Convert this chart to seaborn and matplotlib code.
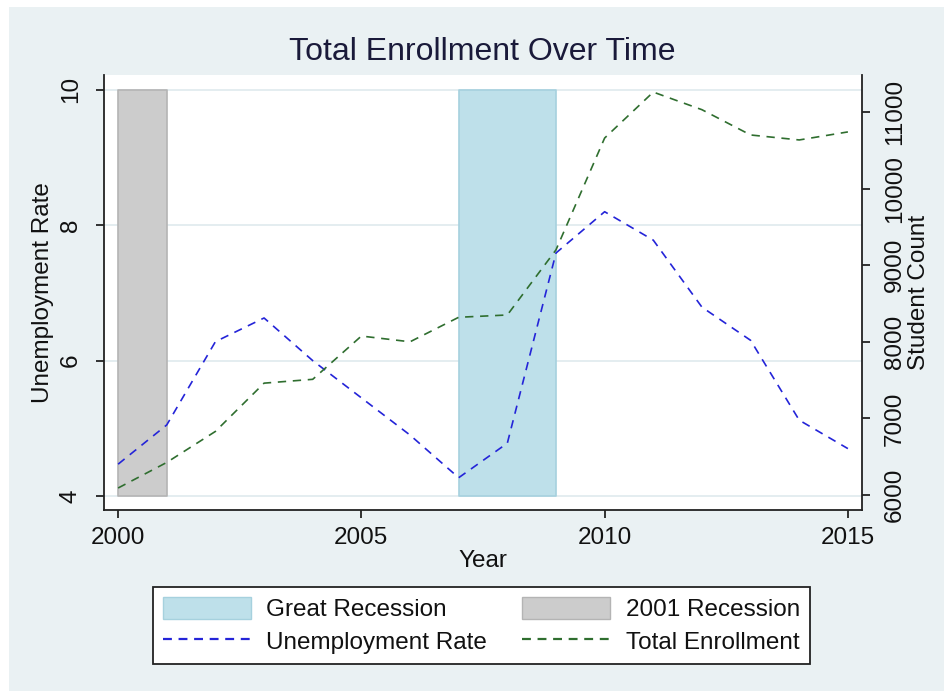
import matplotlib
matplotlib.use("Agg")
import matplotlib.pyplot as plt
from matplotlib.patches import Rectangle, Patch
from matplotlib.lines import Line2D
import seaborn as sns
import pandas as pd

# ---- data ----
years = [2000, 2001, 2002, 2003, 2004, 2005, 2006, 2007,
         2008, 2009, 2010, 2011, 2012, 2013, 2014, 2015]
unemployment = [4.47, 5.05, 6.28, 6.63, 6.00, 5.45, 4.90, 4.27,
                4.78, 7.59, 8.20, 7.78, 6.79, 6.30, 5.12, 4.70]
enrollment = [6091, 6425, 6830, 7460, 7510, 8075, 8000, 8320,
              8350, 9200, 10660, 11260, 11030, 10700, 10635, 10740]

great_recession = [2007, 2009]
recession_2001 = [2000, 2001]
shade_range = [4, 10]

left_ticks = [4, 6, 8, 10]
right_ticks = [6000, 7000, 8000, 9000, 10000, 11000]
x_ticks = [2000, 2005, 2010, 2015]

df = pd.DataFrame({"Year": years, "Unemployment": unemployment,
                   "Enrollment": enrollment})

sns.set_theme(style="white")
plt.rcParams["font.family"] = ["Liberation Sans", "DejaVu Sans"]

BG = "#eaf1f3"
BLUE = "#2424d8"
GREEN = "#2f6e2f"
FS = 17.5

fig = plt.figure(figsize=(9.45, 6.91), dpi=100, facecolor="white")
fig.add_artist(Rectangle((9 / 945, 0), 1, (691 - 7) / 691,
                         transform=fig.transFigure, facecolor=BG,
                         edgecolor="none", zorder=-10))

ax = fig.add_axes([104 / 945, (691 - 510) / 691, (862 - 104) / 945, (510 - 75) / 691])
ax.set_facecolor("white")

# recession shading
ax.fill_between(great_recession, shade_range[0], shade_range[1],
                facecolor="#bee0ea", edgecolor="#a6d1de", linewidth=1.2, zorder=1)
ax.fill_between(recession_2001, shade_range[0], shade_range[1],
                facecolor="#cccccc", edgecolor="#b4b4b4", linewidth=1.2, zorder=1)

sns.lineplot(data=df, x="Year", y="Unemployment", ax=ax, color=BLUE,
             linewidth=1.2, zorder=3)
ax.lines[-1].set_dashes((5, 4))

ax.set_xlim(1999.71, 2015.29)
ax.set_ylim(3.793, 10.22)
ax.set_yticks(left_ticks)
ax.set_xticks(x_ticks)
ax.grid(axis="y", color="#e4edf0", linewidth=1.4, zorder=0)
ax.grid(axis="x", visible=False)
ax.set_axisbelow(True)

ax2 = ax.twinx()
sns.lineplot(data=df, x="Year", y="Enrollment", ax=ax2, color=GREEN,
             linewidth=1.2, zorder=3)
ax2.lines[-1].set_dashes((5, 4))
ax2.set_ylim(5804, 11483)
ax2.set_yticks(right_ticks)
ax2.grid(False)

for a in (ax, ax2):
    for s in ("left", "bottom", "right"):
        a.spines[s].set_color("#222222")
        a.spines[s].set_linewidth(1.3)
    a.spines["top"].set_visible(False)

ax.spines["right"].set_visible(False)
ax2.spines["left"].set_visible(False)
ax2.spines["bottom"].set_visible(False)

ax.tick_params(axis="x", bottom=True, length=6, width=1.3, color="#222222",
               labelsize=FS, pad=6, labelcolor="#111111")
ax.tick_params(axis="y", left=True, length=6, width=1.3, color="#222222",
               labelsize=FS, pad=10, labelrotation=90, labelcolor="#111111")
for t in ax.get_yticklabels():
    t.set_va("center")
ax2.tick_params(axis="y", right=True, length=6, width=1.3, color="#222222",
                labelsize=FS, pad=10, labelrotation=90, labelcolor="#111111")
for t in ax2.get_yticklabels():
    t.set_va("center")

ax.set_xlabel("Year", fontsize=FS, labelpad=1, color="#111111")
ax.set_ylabel("Unemployment Rate", fontsize=FS, labelpad=4, color="#111111")
ax2.set_ylabel("Student Count", fontsize=FS, labelpad=1, rotation=90,
               color="#111111")

fig.text(482 / 945, 1 - 52 / 691, "Total Enrollment Over Time",
         fontsize=23, ha="center", va="center", color="#1a1a3a")

handles = [
    Patch(facecolor="#bee0ea", edgecolor="#a6d1de", label="Great Recession"),
    Line2D([0], [0], color=BLUE, linewidth=1.6, dashes=(4, 3),
           label="Unemployment Rate"),
    Patch(facecolor="#cccccc", edgecolor="#b4b4b4", label="2001 Recession"),
    Line2D([0], [0], color=GREEN, linewidth=1.6, dashes=(4, 3),
           label="Total Enrollment"),
]
leg = fig.legend(handles=handles, ncol=2, loc="center",
                 bbox_to_anchor=(481.5 / 945, 1 - 625.5 / 691),
                 fontsize=FS, frameon=True, fancybox=False, framealpha=1,
                 handlelength=3.6, handleheight=1.0, handletextpad=0.65,
                 columnspacing=1.45, labelspacing=0.35, borderpad=0.4,
                 borderaxespad=0)
leg.get_frame().set_edgecolor("#222222")
leg.get_frame().set_linewidth(1.3)
leg.get_frame().set_facecolor("white")
for t in leg.get_texts():
    t.set_color("#111111")

fig.savefig("out.png", dpi=100, facecolor=fig.get_facecolor())
